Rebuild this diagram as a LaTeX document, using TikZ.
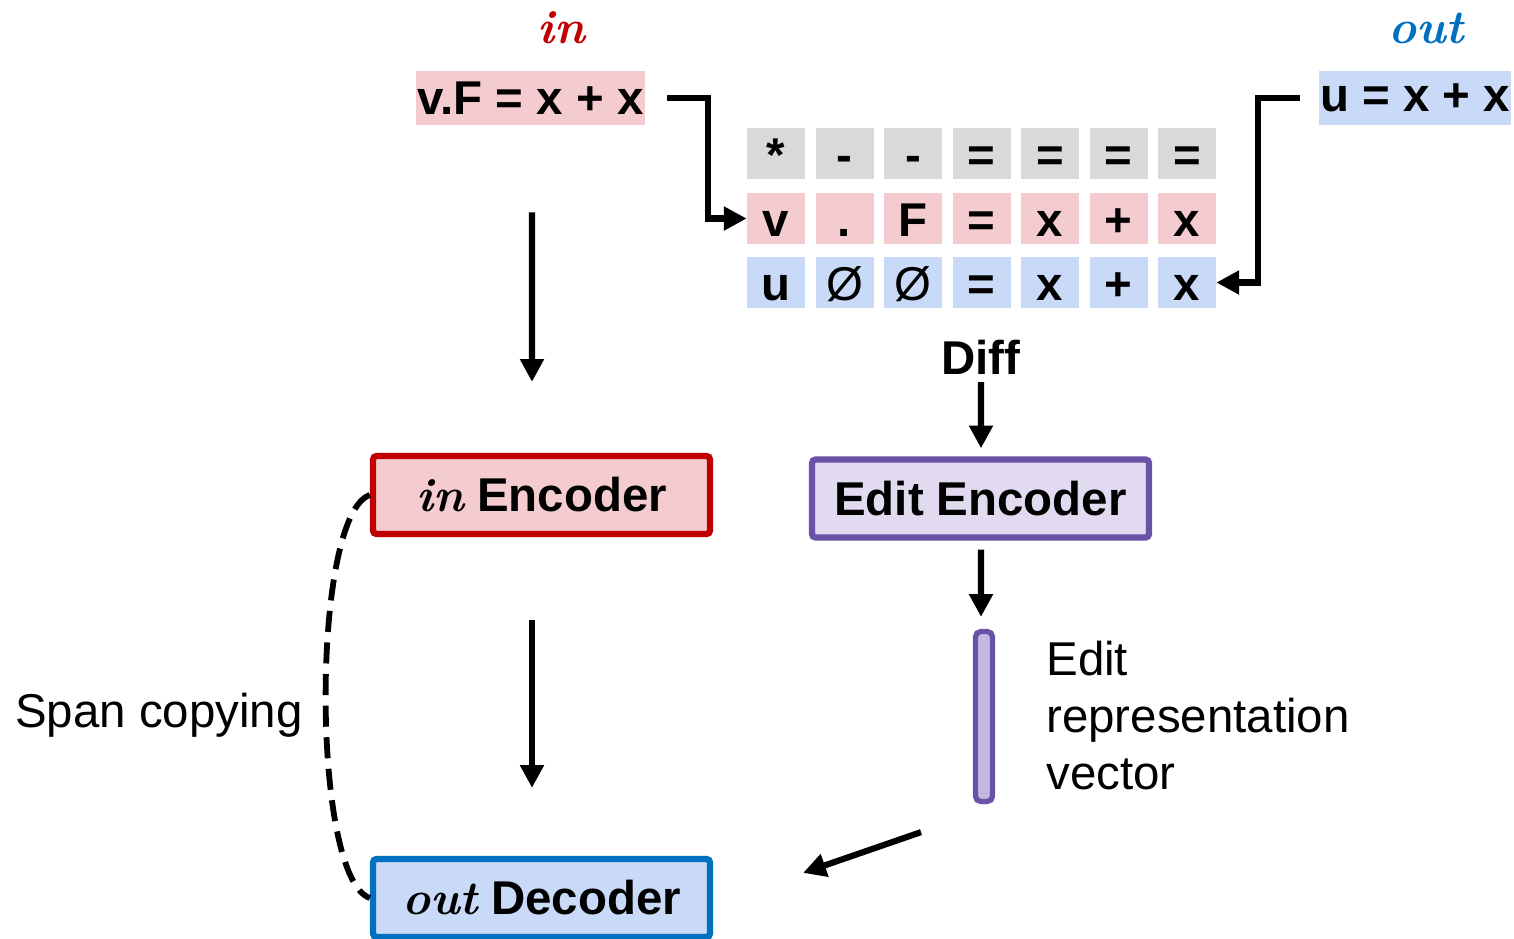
\documentclass[tikz,border=0pt]{standalone}
\usepackage{fontspec}
\newfontfamily\arial{Liberation Sans}
\usetikzlibrary{arrows.meta,calc}

\definecolor{pinkc}{HTML}{F4CCD0}
\definecolor{bluec}{HTML}{C9DAF8}
\definecolor{grayc}{HTML}{D9D9D9}
\definecolor{inred}{HTML}{C00000}
\definecolor{outblue}{HTML}{0070C0}
\definecolor{purc}{HTML}{6A52A6}
\definecolor{editc}{HTML}{E1DAF0}
\definecolor{vecc}{HTML}{C3B8E0}

\begin{document}
\begin{tikzpicture}[x=0.02cm,y=-0.02cm,
  lbl/.style={font=\arial\bfseries\fontsize{27}{32}\selectfont, inner sep=2pt},
  plain/.style={font=\arial\fontsize{27}{32.4}\selectfont, inner sep=0pt},
  tag/.style={font=\fontsize{27}{32}\selectfont\bfseries\itshape, inner sep=2pt},
  cell/.style={lbl, minimum width=1.16cm, minimum height=1.02cm, inner sep=0pt,
    text height=21pt, text depth=0pt},
  strip/.style={lbl, inner sep=0pt, minimum height=1.08cm},
  blockbox/.style={lbl, line width=3.6pt, rounded corners=2pt,
    minimum width=6.74cm, minimum height=1.56cm, inner sep=0pt},
  arr/.style={line width=3.5pt, -{Triangle[length=13pt,width=13pt]}},
]
\useasboundingbox (0,0) rectangle (1514,938);

% sequence labels
\node[tag, text=inred] (inlbl) at (561,28) {in};
\node[tag, text=outblue] (outlbl) at (1426,28) {out};

% input and output sequences
\node[strip, fill=pinkc, minimum width=4.58cm] (src) at (530.5,98) {v.F = x + x};
\node[strip, fill=bluec, minimum width=3.84cm] (tgt) at (1415,98) {u = x + x};

% aligned diff grid
\foreach \t [count=\i] in {*,-,-,=,=,=,=}
  \node[cell, fill=grayc] (a\i) at ({776+68.5*(\i-1)},153.5) {\t};
\foreach \t [count=\i] in {v,.,F,=,x,+,x}
  \node[cell, fill=pinkc] (b\i) at ({776+68.5*(\i-1)},218.5) {\t};
\foreach \t [count=\i] in {u,{\mdseries Ø},{\mdseries Ø},=,x,+,x}
  \node[cell, fill=bluec] (c\i) at ({776+68.5*(\i-1)},282.5) {\t};

\node[lbl] (diff) at (981,357) {Diff};

% encoders and decoder
\node[blockbox, draw=inred, fill=pinkc] (inEnc) at (541.5,495)
  {{\rmfamily\itshape in} Encoder};
\node[blockbox, draw=purc, fill=editc] (editEnc) at (980.5,498.5) {Edit Encoder};
\node[blockbox, draw=outblue, fill=bluec] (outDec) at (541.5,898)
  {{\rmfamily\itshape out} Decoder};

% edit representation vector
\node[draw=purc, fill=vecc, line width=3pt, rounded corners=3pt,
  minimum width=0.34cm, minimum height=3.4cm, inner sep=0pt] (vec) at (984,716.5) {};
\node[plain, anchor=north west, align=left] (veclbl) at (1046,641)
  {Edit\\representation\\vector};

\node[plain, anchor=base west] (span) at (15,727) {Span copying};

% connectors
\draw[arr] ($(src.east)+(22,0)$) -| ($(b1.west)+(-39,0)$) -- (b1.west);
\draw[arr] ($(tgt.west)+(-19,0)$) -| ($(c7.east)+(42,0)$) -- (c7.east);
\draw[arr] ($(src.south)+(1.5,87)$) -- ($(inEnc.north)+(-9.5,-71)$);
\draw[arr] ($(inEnc.south)+(-9.5,83)$) -- ($(outDec.north)+(-9.5,-68)$);
\draw[arr] ($(diff.south)+(0,4)$) -- ($(editEnc.north)+(0.5,-8)$);
\draw[arr] ($(editEnc.south)+(0.5,9)$) -- ($(vec.north)+(-3,-12)$);
\draw[arr] ($(vec.south)+(-63,28)$) -- ($(outDec.north east)+(90,17)$);
\draw[line width=3.3pt, dash pattern=on 12pt off 6pt]
  (inEnc.west) .. controls +(-59,20) and +(-59,-20) .. (outDec.west);
\end{tikzpicture}
\end{document}
